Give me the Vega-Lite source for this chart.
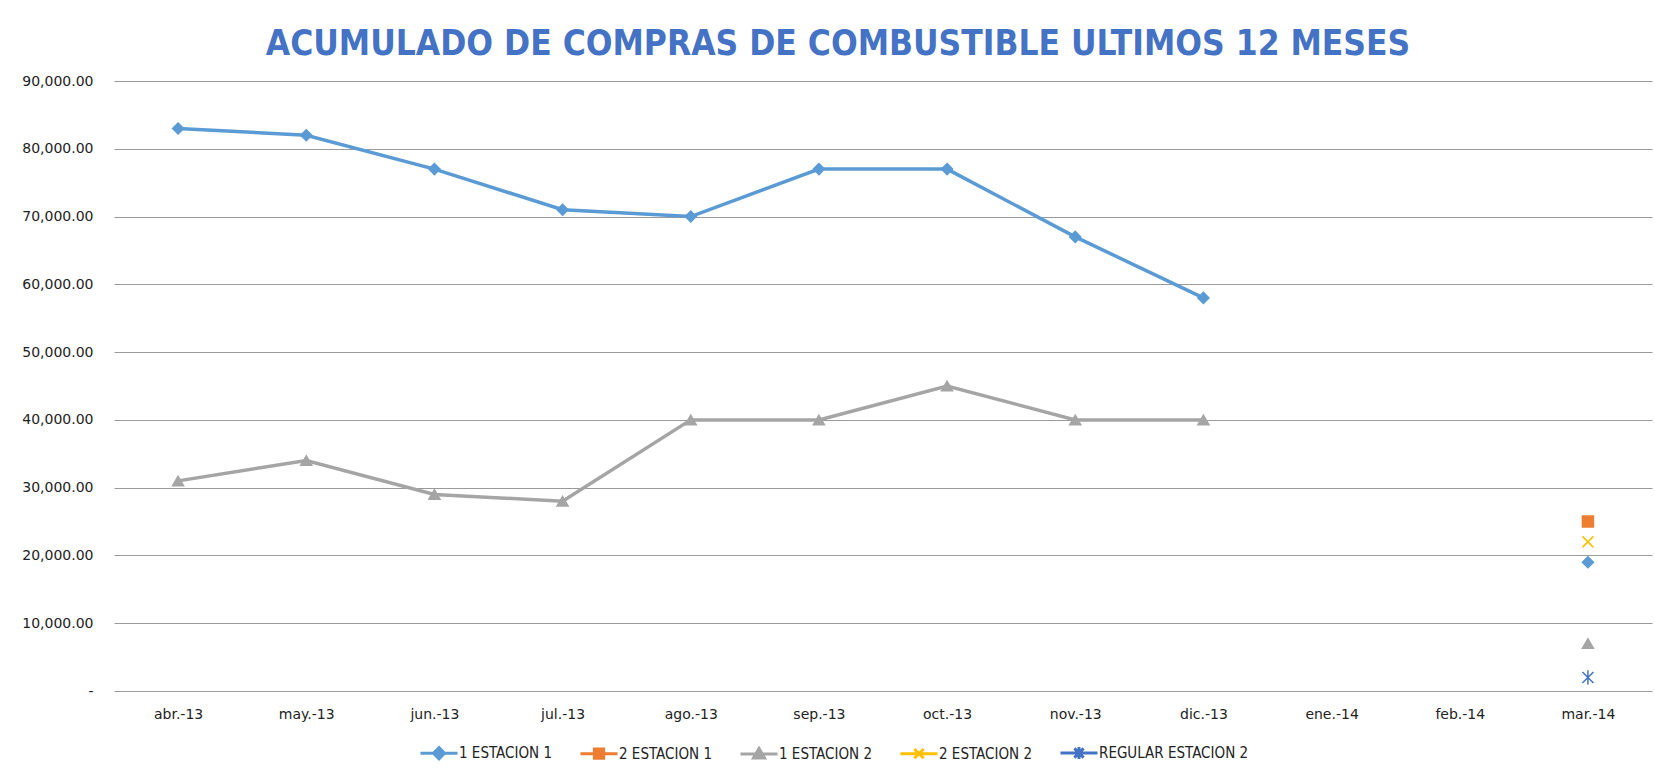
{
  "$schema": "https://vega.github.io/schema/vega-lite/v6.json",
  "width": 1538,
  "height": 610,
  "autosize": {"type": "none"},
  "padding": {"left": 114, "top": 81, "right": 3, "bottom": 80},
  "background": "white",
  "title": {
    "text": "ACUMULADO DE COMPRAS DE COMBUSTIBLE ULTIMOS 12 MESES",
    "font": "DejaVu Sans Condensed",
    "fontWeight": "bold",
    "fontSize": 35,
    "color": "#4472C4",
    "anchor": "middle",
    "dx": -45,
    "offset": 12
  },
  "config": {
    "view": {"stroke": null},
    "axis": {"labelColor": "#222222", "labelFont": "DejaVu Sans", "labelFontSize": 14}
  },
  "data": {
    "values": [
      {"month": "abr.-13", "series": "1 ESTACION 1", "value": 83000},
      {"month": "may.-13", "series": "1 ESTACION 1", "value": 82000},
      {"month": "jun.-13", "series": "1 ESTACION 1", "value": 77000},
      {"month": "jul.-13", "series": "1 ESTACION 1", "value": 71000},
      {"month": "ago.-13", "series": "1 ESTACION 1", "value": 70000},
      {"month": "sep.-13", "series": "1 ESTACION 1", "value": 77000},
      {"month": "oct.-13", "series": "1 ESTACION 1", "value": 77000},
      {"month": "nov.-13", "series": "1 ESTACION 1", "value": 67000},
      {"month": "dic.-13", "series": "1 ESTACION 1", "value": 58000},
      {"month": "mar.-14", "series": "1 ESTACION 1", "value": 19000},
      {"month": "abr.-13", "series": "1 ESTACION 2", "value": 31000},
      {"month": "may.-13", "series": "1 ESTACION 2", "value": 34000},
      {"month": "jun.-13", "series": "1 ESTACION 2", "value": 29000},
      {"month": "jul.-13", "series": "1 ESTACION 2", "value": 28000},
      {"month": "ago.-13", "series": "1 ESTACION 2", "value": 40000},
      {"month": "sep.-13", "series": "1 ESTACION 2", "value": 40000},
      {"month": "oct.-13", "series": "1 ESTACION 2", "value": 45000},
      {"month": "nov.-13", "series": "1 ESTACION 2", "value": 40000},
      {"month": "dic.-13", "series": "1 ESTACION 2", "value": 40000},
      {"month": "mar.-14", "series": "1 ESTACION 2", "value": 7000},
      {"month": "mar.-14", "series": "2 ESTACION 1", "value": 25000},
      {"month": "mar.-14", "series": "2 ESTACION 2", "value": 22000},
      {"month": "mar.-14", "series": "REGULAR ESTACION 2", "value": 2000}
    ]
  },
  "layer": [
    {
      "layer": [
        {
          "transform": [{"filter": "datum.month != 'mar.-14'"}],
          "mark": {"type": "line", "strokeWidth": 3.5},
          "encoding": {
            "x": {"field": "month", "type": "ordinal",
              "sort": ["abr.-13","may.-13","jun.-13","jul.-13","ago.-13","sep.-13","oct.-13","nov.-13","dic.-13","ene.-14","feb.-14","mar.-14"],
              "scale": {"type": "point", "padding": 0.5, "domain": ["abr.-13","may.-13","jun.-13","jul.-13","ago.-13","sep.-13","oct.-13","nov.-13","dic.-13","ene.-14","feb.-14","mar.-14"]},
              "axis": {"title": null, "domain": false, "ticks": false, "grid": false, "labelAngle": 0, "labelPadding": 16}},
            "y": {"field": "value", "type": "quantitative",
              "scale": {"domain": [0, 90000], "nice": false},
              "axis": {"title": null, "domain": false, "ticks": false, "labelPadding": 21,
                "values": [0,10000,20000,30000,40000,50000,60000,70000,80000,90000],
                "labelExpr": "datum.value == 0 ? '-' : format(datum.value, ',.2f')",
                "gridColor": "#9a9a9a", "gridWidth": 1}},
            "stroke": {"field": "series", "type": "nominal",
              "scale": {"domain": ["1 ESTACION 1","2 ESTACION 1","1 ESTACION 2","2 ESTACION 2","REGULAR ESTACION 2"],
                "range": ["#5B9BD5","#ED7D31","#A5A5A5","#FFC000","#4472C4"]},
              "legend": null}
          }
        },
        {
          "mark": {"type": "point", "filled": true, "size": 121, "strokeWidth": 1.5, "opacity": 1},
          "encoding": {
            "x": {"field": "month", "type": "ordinal"},
            "y": {"field": "value", "type": "quantitative"},
            "fill": {"field": "series", "type": "nominal",
              "scale": {"domain": ["1 ESTACION 1","2 ESTACION 1","1 ESTACION 2","2 ESTACION 2","REGULAR ESTACION 2"],
                "range": ["#5B9BD5","#ED7D31","#A5A5A5","#FFC000","#4472C4"]},
              "legend": null},
            "stroke": {"field": "series", "type": "nominal", "legend": null},
            "shape": {"field": "series", "type": "nominal",
              "scale": {"domain": ["1 ESTACION 1","2 ESTACION 1","1 ESTACION 2","2 ESTACION 2","REGULAR ESTACION 2"],
                "range": ["diamond","square","triangle-up","M-1,-1L1,1M-1,1L1,-1","M-1,-1L1,1M-1,1L1,-1M0,-1.3L0,1.3"]},
              "legend": null}
          }
        }
      ]
    },
    {
      "transform": [{"filter": "false"}],
      "mark": {"type": "point", "filled": true, "opacity": 1},
      "encoding": {
        "x": {"field": "month", "type": "ordinal"},
        "y": {"field": "value", "type": "quantitative"},
        "fill": {"field": "series", "type": "nominal",
          "scale": {"domain": ["1 ESTACION 1","2 ESTACION 1","1 ESTACION 2","2 ESTACION 2","REGULAR ESTACION 2"],
            "range": ["#5B9BD5","#ED7D31","#A5A5A5","#FFC000","#4472C4"]}},
        "stroke": {"field": "series", "type": "nominal",
          "scale": {"domain": ["1 ESTACION 1","2 ESTACION 1","1 ESTACION 2","2 ESTACION 2","REGULAR ESTACION 2"],
            "range": ["#5B9BD5","#ED7D31","#A5A5A5","#FFC000","#4472C4"]}},
        "shape": {"field": "series", "type": "nominal",
          "scale": {"domain": ["1 ESTACION 1","2 ESTACION 1","1 ESTACION 2","2 ESTACION 2","REGULAR ESTACION 2"],
            "range": [
              "M-1,0L1,0M0,-0.3L0.3,0L0,0.3L-0.3,0Z",
              "M-1,0L1,0M-0.25,-0.25L0.25,-0.25L0.25,0.25L-0.25,0.25Z",
              "M-1,0L1,0M0,-0.3L0.3,0.22L-0.3,0.22Z",
              "M-1,0L1,0M-0.25,-0.25L0.25,0.25M-0.25,0.25L0.25,-0.25",
              "M-1,0L1,0M-0.25,-0.25L0.25,0.25M-0.25,0.25L0.25,-0.25M0,-0.32L0,0.32"
            ]},
          "legend": {"orient": "none", "legendX": 305, "legendY": 652, "direction": "horizontal", "title": null,
            "labelFont": "DejaVu Sans Condensed", "labelFontSize": 15, "labelColor": "#222222",
            "columnPadding": 22, "labelOffset": 0, "padding": 0, "symbolSize": 1369,
            "symbolStrokeWidth": 3, "symbolOpacity": 1}}
      }
    }
  ],
  "resolve": {
    "scale": {"fill": "independent", "stroke": "independent", "shape": "independent"},
    "legend": {"fill": "independent", "stroke": "independent", "shape": "independent"}
  }
}
